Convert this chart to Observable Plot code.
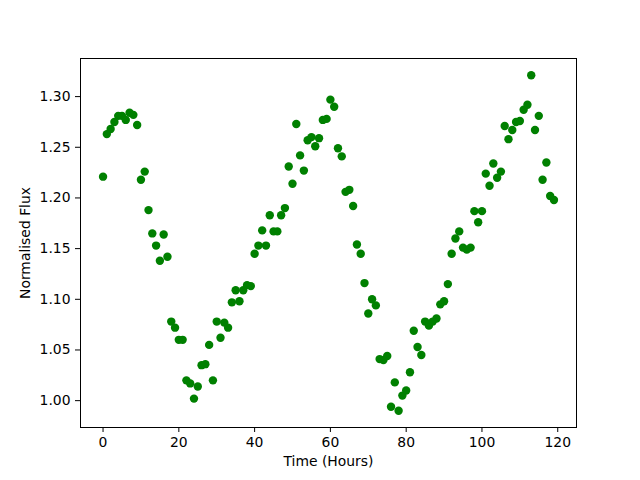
<!DOCTYPE html>
<html>
<head>
<meta charset="utf-8">
<script src="https://cdn.jsdelivr.net/npm/d3@7"></script>
<script src="https://cdn.jsdelivr.net/npm/@observablehq/plot@0.6"></script>
<style>
  html, body { margin: 0; padding: 0; background: #fff; }
</style>
</head>
<body>
<div id="chart"></div>
<script>
const hours = d3.range(0, 120);
const flux = [
  1.221, 1.263, 1.268, 1.275, 1.281, 1.281, 1.277, 1.284, 1.282, 1.272,
  1.218, 1.226, 1.188, 1.165, 1.153, 1.138, 1.164, 1.142, 1.078, 1.072,
  1.060, 1.060, 1.020, 1.017, 1.002, 1.014, 1.035, 1.036, 1.055, 1.020,
  1.078, 1.062, 1.077, 1.072, 1.097, 1.109, 1.098, 1.109, 1.114, 1.113,
  1.145, 1.153, 1.168, 1.153, 1.183, 1.167, 1.167, 1.183, 1.190, 1.231,
  1.214, 1.273, 1.242, 1.227, 1.257, 1.260, 1.251, 1.259, 1.277, 1.278,
  1.297, 1.290, 1.249, 1.241, 1.206, 1.208, 1.192, 1.154, 1.145, 1.116,
  1.086, 1.100, 1.094, 1.041, 1.040, 1.044, 0.994, 1.018, 0.990, 1.005,
  1.010, 1.028, 1.069, 1.053, 1.045, 1.078, 1.074, 1.078, 1.081, 1.095,
  1.098, 1.115, 1.145, 1.160, 1.167, 1.151, 1.149, 1.151, 1.187, 1.176,
  1.187, 1.224, 1.212, 1.234, 1.220, 1.226, 1.271, 1.258, 1.267, 1.275,
  1.276, 1.287, 1.292, 1.321, 1.267, 1.281, 1.218, 1.235, 1.202, 1.198
];
const xTicks = [0, 20, 40, 60, 80, 100, 120];
const yTicks = [1.00, 1.05, 1.10, 1.15, 1.20, 1.25, 1.30];
const xLabel = "Time (Hours)";
const yLabel = "Normalised Flux";

const data = hours.map((h, i) => ({h, f: flux[i]}));

const chart = Plot.plot({
  width: 640,
  height: 480,
  marginLeft: 80,
  marginRight: 64,
  marginTop: 58,
  marginBottom: 53,
  style: {fontFamily: "DejaVu Sans", fontSize: "13.9px", color: "black", background: "white"},
  x: {domain: [-5.95, 124.95]},
  y: {domain: [0.9735, 1.3376]},
  marks: [
    Plot.dot(data, {x: "h", y: "f", r: 4.2, fill: "green", stroke: "none"}),
    Plot.frame({stroke: "black", strokeWidth: 1}),
    Plot.axisX(xTicks, {tickSize: 5, tickPadding: 5, label: xLabel, labelAnchor: "center", labelArrow: "none", labelOffset: 38, fontSize: 13.9}),
    Plot.axisY(yTicks, {tickSize: 5, tickPadding: 5, tickFormat: d3.format(".2f"), label: yLabel, labelAnchor: "center", labelArrow: "none", labelOffset: 60, fontSize: 13.9})
  ]
});
document.getElementById("chart").appendChild(chart);
</script>
</body>
</html>
